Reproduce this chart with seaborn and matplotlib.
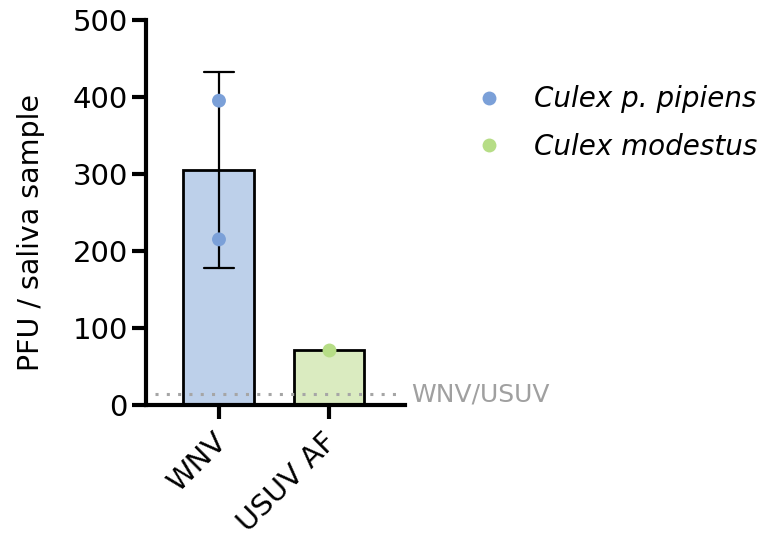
import matplotlib
matplotlib.use("Agg")
import matplotlib.pyplot as plt
import matplotlib.transforms as mtransforms
import seaborn as sns
import pandas as pd

# data
viruses = ["WNV", "WNV", "USUV AF"]
species = ["Culex p. pipiens", "Culex p. pipiens", "Culex modestus"]
pfu = [395, 215, 71]
detection_limit = 14
yticks = [0, 100, 200, 300, 400, 500]

bar_colors = {"WNV": "#BDD0EA", "USUV AF": "#DAEBC0"}
point_colors = {"Culex p. pipiens": "#7BA0D8", "Culex modestus": "#B6DD86"}

df = pd.DataFrame({"virus": viruses, "species": species, "pfu": pfu})

sns.set_style("ticks")
plt.rcParams["font.family"] = ["DejaVu Sans"]
plt.rcParams["text.color"] = "black"
plt.rcParams["axes.labelcolor"] = "black"
plt.rcParams["xtick.labelcolor"] = "black"
plt.rcParams["ytick.labelcolor"] = "black"

fig = plt.figure(figsize=(7.64, 5.35), dpi=100)
ax = fig.add_axes([0.191, 0.243, 0.339, 0.72])

sns.barplot(data=df, x="virus", y="pfu", hue="virus", palette=bar_colors,
            order=["WNV", "USUV AF"], errorbar="sd", capsize=0.28, width=0.645,
            saturation=1, edgecolor="black", linewidth=2, legend=False,
            err_kws={"color": "black", "linewidth": 1.6}, ax=ax)

sns.stripplot(data=df, x="virus", y="pfu", hue="species", palette=point_colors,
              order=["WNV", "USUV AF"], jitter=False, size=10, zorder=5, ax=ax)

# detection limit
ax.axhline(detection_limit, xmin=0.035, xmax=0.985, color="#A6A6A6",
           linestyle=(0, (1, 2.7)), linewidth=2.2, zorder=4)
ax.text(1.025, detection_limit, "WNV/USUV", transform=ax.get_yaxis_transform(),
        color="#A0A0A0", fontsize=18, va="center", ha="left")

ax.set_xlim(-0.664, 1.69)
ax.set_ylim(0, 500)
ax.set_yticks(yticks)
ax.set_xlabel("")
ax.set_ylabel("PFU / saliva sample", fontsize=20.5)
ax.yaxis.set_label_coords(-0.39, 0.449)
ax.tick_params(axis="both", width=3, length=10, labelsize=21, color="black")
ax.tick_params(axis="y", pad=3)
plt.setp(ax.get_xticklabels(), rotation=45, ha="right", rotation_mode="anchor")
shift = mtransforms.ScaledTranslation(-7 / 100, -4 / 100, fig.dpi_scale_trans)
for lab in ax.get_xticklabels():
    lab.set_transform(lab.get_transform() + shift)

for s in ["left", "bottom"]:
    ax.spines[s].set_linewidth(3)
    ax.spines[s].set_color("black")
sns.despine(ax=ax)

sns.move_legend(ax, "upper left", bbox_to_anchor=(1.12, 0.895), bbox_transform=ax.transAxes,
                title=None, frameon=False, prop={"style": "italic", "size": 20},
                handletextpad=0.64, labelspacing=0.71, markerscale=1.0)

fig.savefig("out.png", dpi=100)
